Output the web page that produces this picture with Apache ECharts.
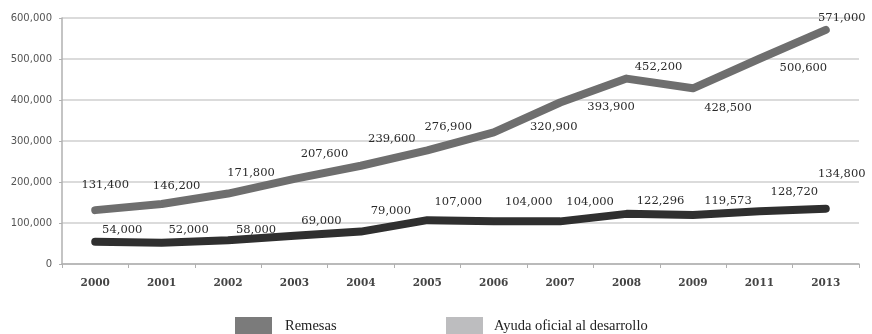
<!DOCTYPE html>
<html>
<head>
<meta charset="utf-8">
<script src="https://cdn.jsdelivr.net/npm/echarts@6/dist/echarts.min.js"></script>
<style>
  html, body { margin: 0; padding: 0; background: #ffffff; }
  #chart { width: 872px; height: 334px; }
</style>
</head>
<body>
<div id="chart"></div>
<script>
// Category labels (years) and the two series
const years = ['2000', '2001', '2002', '2003', '2004', '2005', '2006', '2007', '2008', '2009', '2011', '2013'];
const remesas = [131400, 146200, 171800, 207600, 239600, 276900, 320900, 393900, 452200, 428500, 500600, 571000];
const ayuda = [54000, 52000, 58000, 69000, 79000, 107000, 104000, 104000, 122296, 119573, 128720, 134800];

// Per-point label nudges [dx, dy] in pixels, relative to the default "top" placement
const remesasLabelShift = [[10, -14], [15, -7], [23, -9], [30, -13], [31, -15], [21, -12], [60, 6], [51, 16], [32, 0], [35, 31], [44, 21], [16, 0]];
const ayudaLabelShift = [[27, 0], [27, -1], [28, 1], [27, -3], [30, -9], [31, -7], [35, -8], [30, -8], [34, -1], [35, -2], [35, -8], [16, -23]];

const fmt = v => Number(v).toLocaleString('en-US');

function withLabels(values, shifts) {
  return values.map((v, i) => ({ value: v, label: { offset: shifts[i] } }));
}

const labelStyle = {
  show: true,
  position: 'top',
  distance: 5,
  fontFamily: 'DejaVu Serif',
  fontSize: 11.5,
  color: '#2a2a2a',
  formatter: p => fmt(p.value)
};

const chart = echarts.init(document.getElementById('chart'), null, { renderer: 'canvas' });

chart.setOption({
  backgroundColor: '#ffffff',
  animation: false,
  grid: { left: 62, right: 13, top: 18, bottom: 70, containLabel: false },
  legend: [
    {
      data: ['Remesas'],
      left: 230, top: 312,
      icon: 'rect', itemWidth: 37, itemHeight: 18,
      itemStyle: { color: '#7b7b7b', borderWidth: 0 },
      textStyle: { fontFamily: 'Liberation Serif', fontSize: 14.5, color: '#222222', padding: [0, 0, 0, 8] },
      selectedMode: false
    },
    {
      data: ['Ayuda oficial al desarrollo'],
      left: 441, top: 312,
      icon: 'rect', itemWidth: 37, itemHeight: 18,
      itemStyle: { color: '#bdbdbf', borderWidth: 0 },
      textStyle: { fontFamily: 'Liberation Serif', fontSize: 14.5, color: '#222222', padding: [0, 0, 0, 6] },
      selectedMode: false
    }
  ],
  xAxis: {
    type: 'category',
    data: years,
    boundaryGap: true,
    axisLine: { lineStyle: { color: '#b0b0b0', width: 1.5 } },
    axisTick: { show: true, length: 4, lineStyle: { color: '#b0b0b0' } },
    axisLabel: { margin: 14, fontFamily: 'DejaVu Serif', fontWeight: 'bold', fontSize: 10.5, color: '#444444' },
    splitLine: { show: false }
  },
  yAxis: {
    type: 'value',
    min: 0, max: 600000, interval: 100000,
    axisLine: { show: true, lineStyle: { color: '#b0b0b0', width: 1.5 } },
    axisTick: { show: true, length: 3, lineStyle: { color: '#b0b0b0' } },
    axisLabel: { margin: 10, fontFamily: 'DejaVu Sans', fontSize: 10, color: '#555555', formatter: v => fmt(v) },
    splitLine: { show: true, lineStyle: { color: '#cfcfcf', width: 1.5 } }
  },
  series: [
    {
      name: 'Remesas',
      type: 'line',
      data: withLabels(remesas, remesasLabelShift),
      symbol: 'circle', symbolSize: 1, showSymbol: true, showAllSymbol: true,
      itemStyle: { color: '#6e6e6e' },
      lineStyle: { color: '#6e6e6e', width: 8, cap: 'round', join: 'round' },
      label: labelStyle,
      z: 3
    },
    {
      name: 'Ayuda oficial al desarrollo',
      type: 'line',
      data: withLabels(ayuda, ayudaLabelShift),
      symbol: 'circle', symbolSize: 1, showSymbol: true, showAllSymbol: true,
      itemStyle: { color: '#2f2f2f' },
      lineStyle: { color: '#2f2f2f', width: 8, cap: 'round', join: 'round' },
      label: labelStyle,
      z: 3
    }
  ]
});
</script>
</body>
</html>
